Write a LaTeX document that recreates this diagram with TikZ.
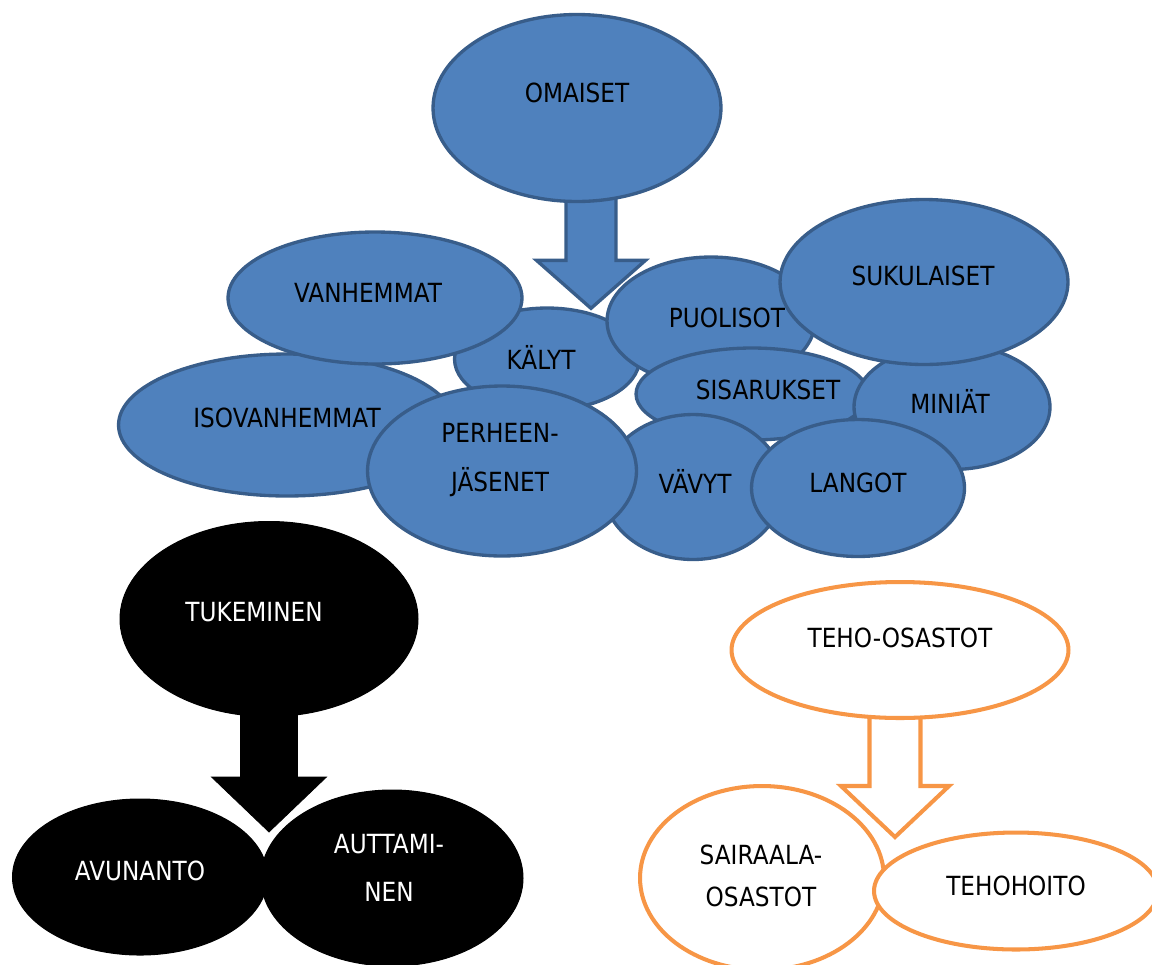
\documentclass[tikz,border=0pt]{standalone}
\usepackage{fontspec}
\setmainfont{DejaVu Sans}[FakeStretch=0.88]
\usepackage{tikz}
\usetikzlibrary{shapes.geometric, calc, positioning}
\definecolor{famBlue}{HTML}{4F81BD}
\definecolor{famEdge}{HTML}{385D8A}
\definecolor{wardOrange}{HTML}{F79646}

% block arrow pointing down: style, tip, length, shaft half, head half, head length
\newcommand{\blockarrow}[6]{%
  \draw[#1] ($(#2)+(-#4,-#3)$) -- ($(#2)+(-#4,-#6)$) -- ($(#2)+(-#5,-#6)$) -- (#2)
    -- ($(#2)+(#5,-#6)$) -- ($(#2)+(#4,-#6)$) -- ($(#2)+(#4,-#3)$) -- cycle;}

\begin{document}
\begin{tikzpicture}[
  x=0.02cm, y=-0.02cm,
  blob/.style={ellipse, draw=famEdge, fill=famBlue, line width=1.9pt, inner sep=0pt},
  dark/.style={ellipse, draw=black, fill=black, line width=0.6pt, inner sep=0pt},
  ward/.style={ellipse, draw=wardOrange, fill=white, line width=2.3pt, inner sep=0pt},
  lbl/.style={font=\fontsize{15}{27}\selectfont, align=center, inner sep=0pt},
  blobarrow/.style={draw=famEdge, fill=famBlue, line width=1.9pt, line join=miter},
  darkarrow/.style={draw=black, fill=black, line join=miter},
  wardarrow/.style={draw=wardOrange, fill=white, line width=2.3pt, line join=miter}]

  \clip (0,0) rectangle (1152,964);

  % family cluster
  \node[blob, minimum width=6.74cm, minimum height=2.84cm] (iso) at (287,425) {};
  \node[lbl] (iso-t) at ([shift={(0,-7)}]iso.center) {ISOVANHEMMAT};
  \node[blob, minimum width=3.70cm, minimum height=2.04cm] (kalyt) at (547,359) {};
  \node[lbl] (kalyt-t) at ([shift={(-6,-2)}]kalyt.center) {KÄLYT};
  \node[blob, minimum width=5.88cm, minimum height=2.64cm] (vanh) at (375,298) {};
  \node[lbl] (vanh-t) at ([shift={(-7,-5)}]vanh.center) {VANHEMMAT};
  \node[blob, minimum width=4.16cm, minimum height=2.56cm] (puol) at (711,321) {};
  \node[lbl] (puol-t) at ([shift={(16,-3)}]puol.center) {PUOLISOT};
  \node[blob, minimum width=4.64cm, minimum height=1.84cm] (sisar) at (752,394) {};
  \node[lbl] (sisar-t) at ([shift={(16,-4)}]sisar.center) {SISARUKSET};
  \node[blob, minimum width=3.92cm, minimum height=2.50cm] (miniat) at (952,407) {};
  \node[lbl] (miniat-t) at ([shift={(-2,-6)}]miniat.center) {MINIÄT};
  \node[blob, minimum width=5.76cm, minimum height=3.30cm] (suku) at (924,282) {};
  \node[lbl] (suku-t) at ([shift={(-1,-6)}]suku.center) {SUKULAISET};
  \node[blob, minimum width=3.60cm, minimum height=2.90cm] (vavyt) at (693,487) {};
  \node[lbl] (vavyt-t) at ([shift={(2,-6)}]vavyt.center) {VÄVYT};
  \node[blob, minimum width=4.26cm, minimum height=2.74cm] (langot) at (858,488) {};
  \node[lbl] (langot-t) at ([shift={(0,-5)}]langot.center) {LANGOT};
  \node[blob, minimum width=5.38cm, minimum height=3.40cm] (perh) at (502,471) {};
  \node[lbl, font=\fontsize{15}{28}\selectfont] (perh-t) at ([shift={(-2,-11)}]perh.center) {PERHEEN-\\JÄSENET};

  \coordinate (omaiset-tip) at ([shift={(44,2)}]kalyt.north);
  \blockarrow{blobarrow}{omaiset-tip}{130}{25}{54.5}{48}
  \node[blob, minimum width=5.76cm, minimum height=3.74cm] (omaiset) at (577,108) {};
  \node[lbl] (omaiset-t) at ([shift={(0,-15)}]omaiset.center) {OMAISET};

  % support
  \node[dark, minimum width=5.10cm, minimum height=3.12cm] (avun) at (140,877) {};
  \node[lbl, text=white] (avun-t) at ([shift={(0,-6)}]avun.center) {AVUNANTO};
  \node[dark, minimum width=5.24cm, minimum height=3.52cm] (autt) at (392,878) {};
  \node[lbl, text=white, font=\fontsize{15}{27}\selectfont] (autt-t) at ([shift={(-3,-10)}]autt.center) {AUTTAMI-\\NEN};
  \coordinate (tuki-tip) at (269,832);
  \blockarrow{darkarrow}{tuki-tip}{132}{28.5}{57.5}{55}
  \node[dark, minimum width=5.96cm, minimum height=3.90cm] (tuki) at (269,619) {};
  \node[lbl, text=white] (tuki-t) at ([shift={(-15,-7)}]tuki.center) {TUKEMINEN};

  % wards
  \node[ward, minimum width=4.88cm, minimum height=3.68cm] (sair) at (762,878) {};
  \node[lbl, font=\fontsize{15}{24}\selectfont] (sair-t) at ([shift={(-1,-2)}]sair.center) {SAIRAALA-\\OSASTOT};
  \node[ward, minimum width=5.68cm, minimum height=2.34cm] (hoito) at (1016,891) {};
  \node[lbl] (hoito-t) at ([shift={(0,-5)}]hoito.center) {TEHOHOITO};
  \coordinate (teho-tip) at (895,837);
  \blockarrow{wardarrow}{teho-tip}{137}{25.5}{54}{51}
  \node[ward, minimum width=6.74cm, minimum height=2.72cm] (teho) at (900,650) {};
  \node[lbl] (teho-t) at ([shift={(0,-12)}]teho.center) {TEHO-OSASTOT};
\end{tikzpicture}
\end{document}
